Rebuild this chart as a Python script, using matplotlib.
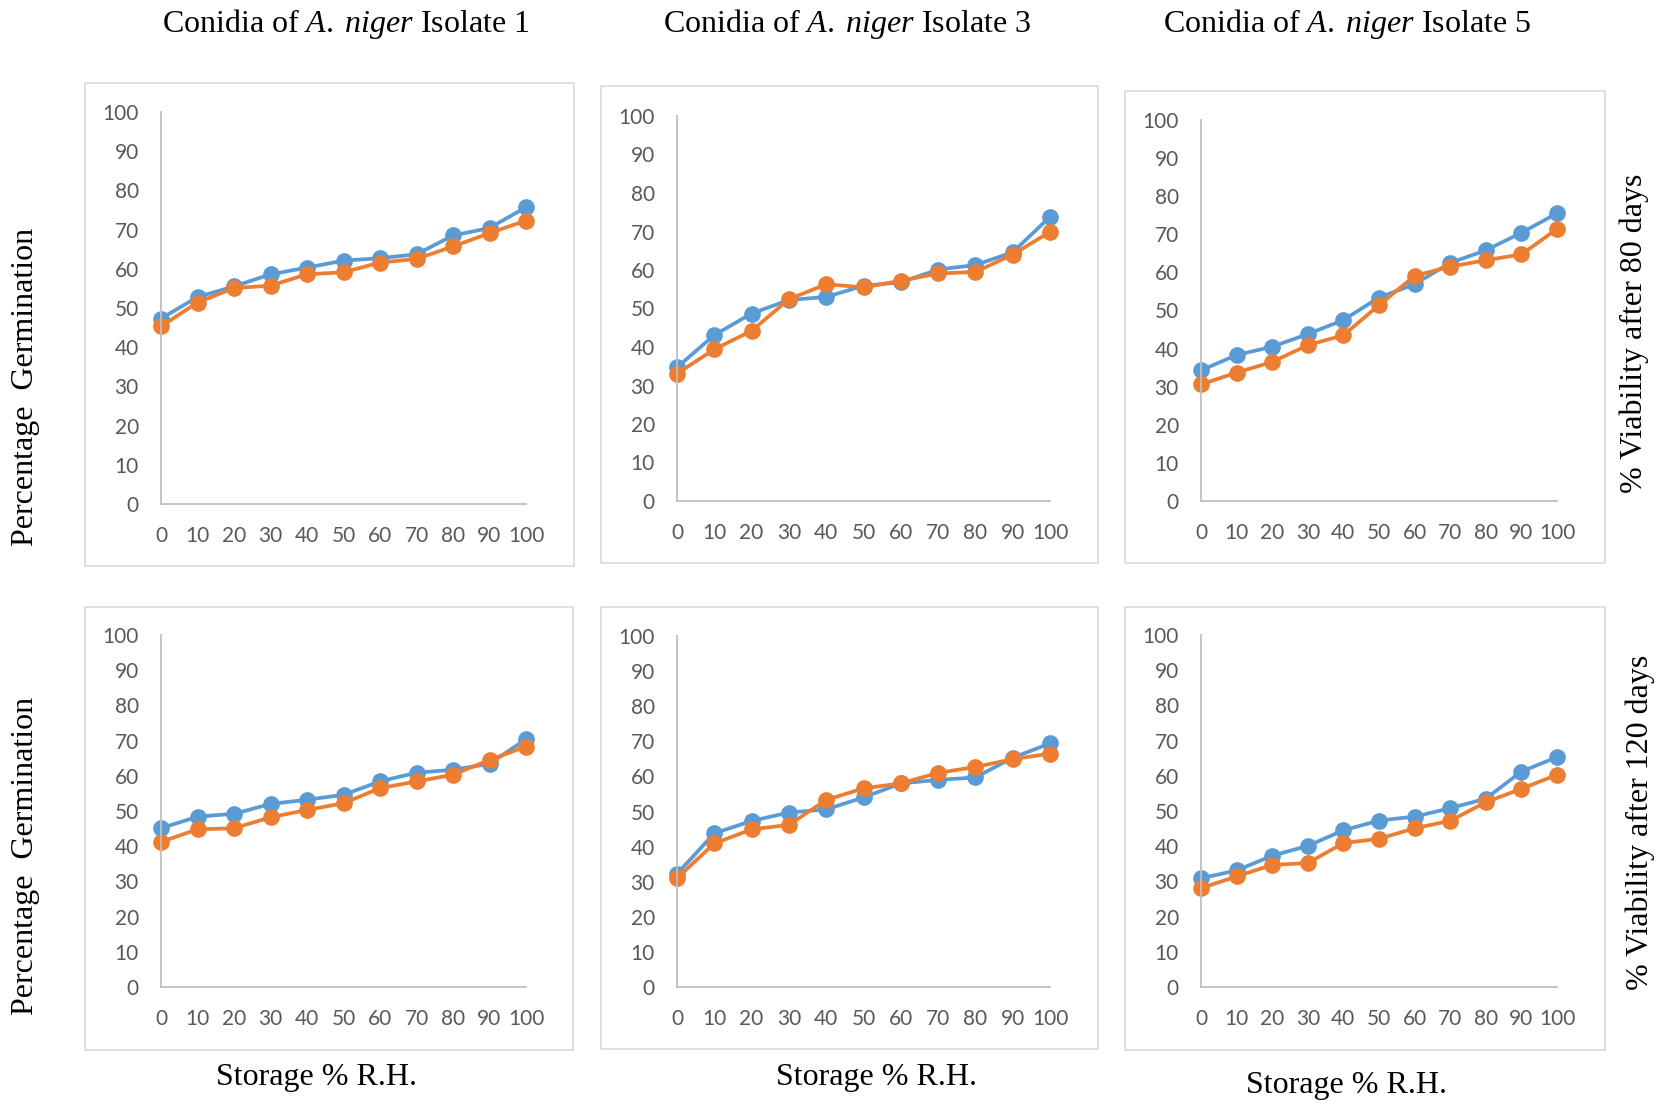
import matplotlib
matplotlib.use("Agg")
import matplotlib.pyplot as plt
from matplotlib.patches import Rectangle

plt.rcParams['mathtext.fontset'] = 'custom'
plt.rcParams['mathtext.rm'] = 'Liberation Serif'
plt.rcParams['mathtext.it'] = 'Liberation Serif:italic'

# storage relative humidity (%)
rh = [0, 10, 20, 30, 40, 50, 60, 70, 80, 90, 100]

# after 80 days
iso1_80_blue = [47.3, 52.8, 55.5, 58.6, 60.3, 62.1, 62.7, 63.7, 68.5, 70.4, 75.7]
iso1_80_orange = [45.3, 51.4, 55.1, 55.7, 58.6, 59.1, 61.6, 62.5, 65.7, 69.1, 72.3]
iso3_80_blue = [34.7, 43.1, 48.7, 52.2, 53.0, 55.9, 56.8, 60.1, 61.3, 64.6, 73.8]
iso3_80_orange = [33.1, 39.4, 44.2, 52.4, 56.3, 55.5, 57.2, 59.1, 59.5, 64.0, 69.9]
iso5_80_blue = [34.3, 38.3, 40.5, 43.8, 47.5, 53.4, 56.9, 62.5, 65.8, 70.4, 75.5]
iso5_80_orange = [30.6, 33.7, 36.5, 40.9, 43.5, 51.4, 59.1, 61.5, 63.2, 64.7, 71.4]

# after 120 days
iso1_120_blue = [45.1, 48.4, 49.2, 52.0, 53.2, 54.6, 58.4, 60.9, 61.7, 63.4, 70.4]
iso1_120_orange = [41.2, 44.8, 45.1, 48.2, 50.3, 52.2, 56.5, 58.4, 60.3, 64.5, 68.3]
iso3_120_blue = [32.2, 43.8, 47.3, 49.7, 50.6, 54.0, 58.0, 59.0, 59.7, 65.3, 69.4]
iso3_120_orange = [31.0, 40.9, 44.9, 46.2, 53.3, 56.6, 58.0, 61.0, 62.7, 64.9, 66.5]
iso5_120_blue = [30.9, 33.1, 37.3, 40.1, 44.5, 47.3, 48.4, 50.8, 53.5, 61.2, 65.3]
iso5_120_orange = [28.1, 31.4, 34.7, 35.2, 40.9, 42.1, 45.1, 47.2, 52.5, 56.3, 60.3]

titles = ["Conidia of $\\it{A.\\;niger}$ Isolate 1",
          "Conidia of $\\it{A.\\;niger}$ Isolate 3",
          "Conidia of $\\it{A.\\;niger}$ Isolate 5"]

W, H = 1663, 1103
fig = plt.figure(figsize=(W / 100, H / 100), dpi=100)

def fx(x):
    return x / W

def fy(y):
    return 1 - y / H

# pixel boxes (left, right, top, bottom) of axes and outer frames
axboxes = [(161, 526, 112, 504), (677, 1050, 116, 501), (1201, 1557, 120, 501),
           (161, 526, 635, 987), (677, 1050, 636, 987), (1201, 1557, 635, 987)]
frames = [(85, 574, 83, 566), (601, 1098, 86, 563), (1125, 1605, 91, 563),
          (85, 573, 607, 1050), (601, 1098, 607, 1049), (1125, 1605, 607, 1050)]

series = [(iso1_80_blue, iso1_80_orange), (iso3_80_blue, iso3_80_orange),
          (iso5_80_blue, iso5_80_orange), (iso1_120_blue, iso1_120_orange),
          (iso3_120_blue, iso3_120_orange), (iso5_120_blue, iso5_120_orange)]

for (l, r, t, b), (fl, fr, ft, fb), (blue, orange) in zip(axboxes, frames, series):
    fig.patches.append(Rectangle((fx(fl), fy(fb)), fx(fr - fl), (fb - ft) / H,
                                 transform=fig.transFigure, fill=False,
                                 edgecolor='#D9D9D9', linewidth=1.2))
    ax = fig.add_axes([fx(l), fy(b), fx(r - l), (b - t) / H])
    ax.plot(rh, blue, color='#5B9BD5', lw=2.7, marker='o', ms=11, clip_on=False)
    ax.plot(rh, orange, color='#ED7D31', lw=2.7, marker='o', ms=11, clip_on=False)
    ax.set_xlim(0, 100)
    ax.set_ylim(0, 100)
    ax.set_xticks(rh)
    ax.set_yticks(range(0, 101, 10))
    for s in ['top', 'right']:
        ax.spines[s].set_visible(False)
    for s in ['left', 'bottom']:
        ax.spines[s].set_color('#BFBFBF')
        ax.spines[s].set_linewidth(1.3)
    ax.tick_params(length=0, labelsize=15, labelcolor='#595959')
    ax.tick_params(axis='y', pad=16)
    ax.tick_params(axis='x', pad=16)
    for lab in ax.get_xticklabels() + ax.get_yticklabels():
        lab.set_fontfamily('Lato')
    ax.patch.set_alpha(0)

serif = 'Liberation Serif'
for x, t in zip([346, 847, 1347], titles):
    fig.text(fx(x), fy(24), t, ha='center', va='center', fontsize=23, family=serif)

for x, y in [(316, 1078), (877, 1078), (1347, 1085)]:
    fig.text(fx(x), fy(y), "Storage % R.H.", ha='center', va='center', fontsize=23, family=serif)

for y in [387, 856]:
    fig.text(fx(26), fy(y), "Percentage  Germination", ha='center', va='center',
             rotation=90, fontsize=23, family=serif)

fig.text(fx(1634), fy(333), "% Viability after 80 days", ha='center', va='center',
         rotation=90, fontsize=23, family=serif)
fig.text(fx(1640), fy(822), "% Viability after 120 days", ha='center', va='center',
         rotation=90, fontsize=23, family=serif)

fig.savefig("out.png", dpi=100)
